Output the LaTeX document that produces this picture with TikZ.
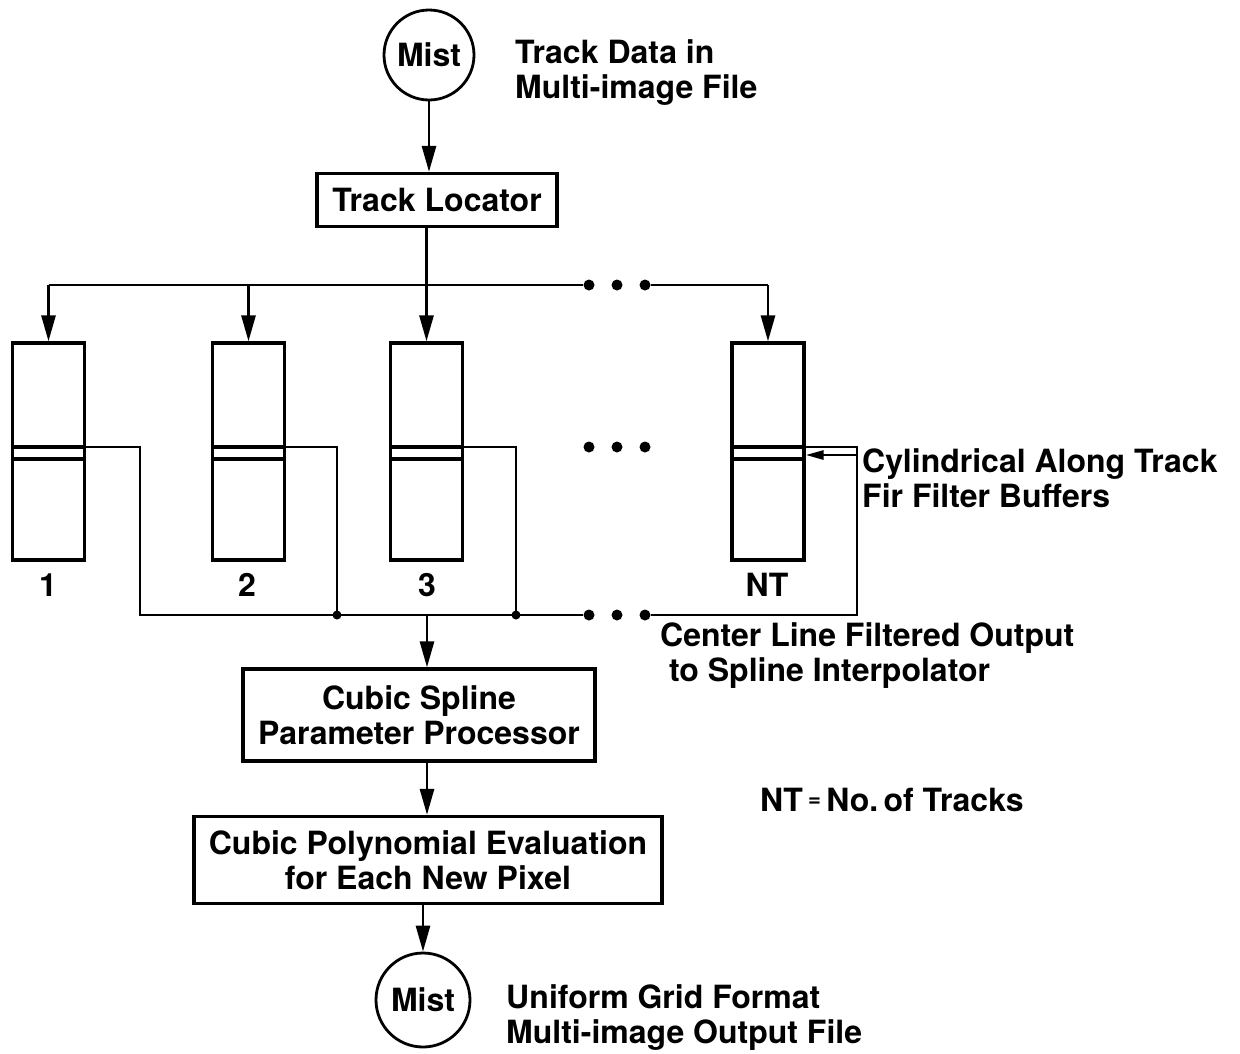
\documentclass[tikz,border=0pt]{standalone}
\usepackage{fontspec}
\newfontfamily\hv{TeX Gyre Heros}
\usetikzlibrary{arrows.meta}
\begin{document}
\begin{tikzpicture}[x=1pt,y=-1pt,
  every node/.style={font=\hv\bfseries\fontsize{32}{35}\selectfont},
  conn/.style={line width=2.8pt},
  arr/.style={conn,-{Triangle[length=26pt,width=14pt]}},
  ptr/.style={conn,-{Triangle[length=18pt,width=9pt]}},
  boxnode/.style={draw,line width=3.3pt,inner sep=0pt,align=center},
  circnode/.style={draw,circle,line width=2.8pt,inner sep=0pt},
  buf/.style={draw,line width=3.3pt,minimum width=72pt,minimum height=217pt,inner sep=0pt},
  lbl/.style={anchor=west,align=left,inner sep=0pt},
  bigdot/.style={circle,fill,inner sep=0pt,minimum size=11pt},
  jdot/.style={circle,fill,inner sep=0pt,minimum size=9pt}
]
\useasboundingbox (0,0) rectangle (1240,1053);

% top source
\node[circnode,minimum size=90pt] (m1) at (429,55) {Mist};
\node[lbl] (t1) at (515,73) {Track Data in\\Multi-image File};

\node[boxnode,minimum width=240pt,minimum height=53pt] (tl) at (437,200) {Track Locator};

% buffers
\node[buf] (b1) at (48.5,451.5) {};
\node[buf] (b2) at (248.5,451.5) {};
\node[buf] (b3) at (426.5,451.5) {};
\node[buf] (bNT) at (768,451.5) {};

\coordinate (yTop) at (0,285);
\coordinate (yBand) at (0,447);
\coordinate (yBand2) at (0,459);
\coordinate (yPtr) at (0,455);

\foreach \b in {b1,b2,b3,bNT}{
  \draw[line width=3.3pt] (\b.west |- yBand) -- (\b.east |- yBand);
  \draw[line width=3.3pt] (\b.west |- yBand2) -- (\b.east |- yBand2);
}

\node (n1) at (48,585) {1};
\node (n2) at (247,585) {2};
\node (n3) at (427,585) {3};
\node (nNT) at (767,585) {NT};

% dots
\node[bigdot] (dt1) at (589,285) {};
\node[bigdot] (dt2) at (617,285) {};
\node[bigdot] (dt3) at (645,285) {};
\node[bigdot] (dm1) at (589,447) {};
\node[bigdot] (dm2) at (617,447) {};
\node[bigdot] (dm3) at (645,447) {};
\node[bigdot] (db1) at (589,615) {};
\node[bigdot] (db2) at (617,615) {};
\node[bigdot] (db3) at (645,615) {};

% distribution
\draw[arr] (m1.south) -- (m1.south |- tl.north);
\draw[conn] (b1.north |- yTop) -- (dt1);
\draw[conn] (dt3) -- (bNT.north |- yTop);
\draw[arr] (b1.north |- yTop) -- (b1.north);
\draw[arr] (b2.north |- yTop) -- (b2.north);
\draw[arr] (bNT.north |- yTop) -- (bNT.north);
\draw[arr] (b3.north |- tl.south) -- (b3.north);

% collection
\coordinate (o1) at (140,615);
\node[jdot] (o2) at (337,615) {};
\node[jdot] (o3) at (516,615) {};
\coordinate (oNT) at (857,615);
\coordinate (jm) at (427,615);

\draw[conn] (b1.east |- yBand) -| (o1) -- (db1);
\draw[conn] (b2.east |- yBand) -| (o2.center);
\draw[conn] (b3.east |- yBand) -| (o3.center);
\draw[conn] (db3) -- (oNT) |- (bNT.east |- yBand);
\draw[ptr] (oNT |- yPtr) -- (bNT.east |- yPtr);

\node[lbl] (cyl) at (862,478) {Cylindrical Along Track\\Fir Filter Buffers};
\node[lbl] (cl) at (660,656) {Center Line Filtered Output\\\ to Spline Interpolator};

% processing chain
\node[boxnode,minimum width=352pt,minimum height=92pt] (cs) at (419,715) {Cubic Spline\\Parameter Processor};
\node[boxnode,minimum width=468pt,minimum height=87pt] (cp) at (428,860) {Cubic Polynomial Evaluation\\for Each New Pixel};
\node[lbl] (ntdef) at (760,800) {NT\,\raisebox{5pt}{\fontsize{22}{22}\selectfont=}\,No.\,of Tracks};

\node[circnode,minimum size=94pt] (m2) at (423,1000) {Mist};
\node[lbl] (t2) at (506,1018) {Uniform Grid Format\\Multi-image Output File};

\draw[arr] (jm) -- (jm |- cs.north);
\draw[arr] (jm |- cs.south) -- (jm |- cp.north);
\draw[arr] (m2.north |- cp.south) -- (m2.north);
\end{tikzpicture}
\end{document}
